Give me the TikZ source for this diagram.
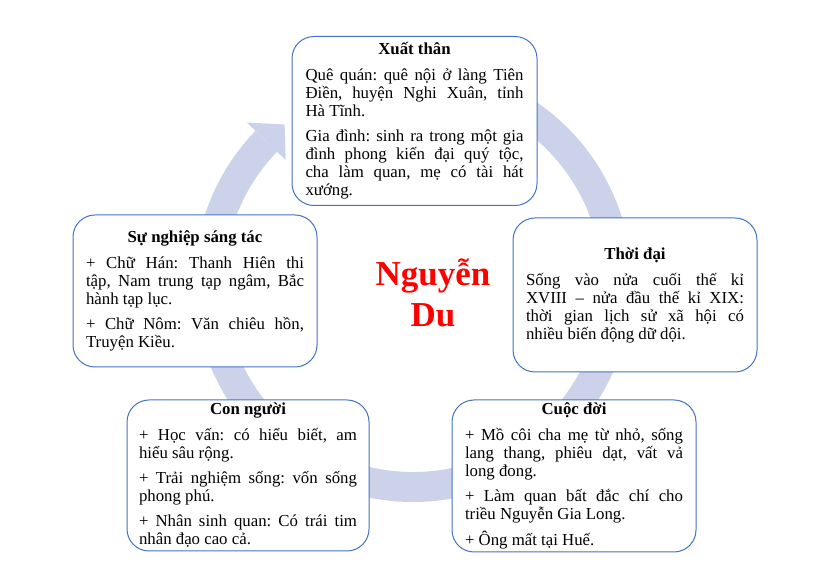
\documentclass[tikz,border=0pt]{standalone}
\usepackage{fontspec}
\setmainfont{Liberation Serif}
\usetikzlibrary{calc}
\definecolor{boxblue}{RGB}{68,114,196}
\definecolor{ringblue}{RGB}{204,210,233}
\definecolor{titlered}{RGB}{255,0,0}
\hyphenpenalty=10000 \exhyphenpenalty=10000 \tolerance=9999
\frenchspacing
\newcommand\boxtitle[1]{{\centering\bfseries #1\par}\vspace{8pt}}
\newcommand\pgap{\par\vspace{7pt}}
\newcommand\lb{\linebreak}
\begin{document}
\begin{tikzpicture}[x=1pt,y=1pt,
  infobox/.style={draw=boxblue, line width=1pt, fill=white, rounded corners=22pt,
    text width=218pt, align=justify, inner sep=1pt,
    font=\fontsize{16.8}{18}\selectfont\frenchspacing,
    execute at begin node={\setlength{\parindent}{0pt}}},
  bigtitle/.style={text=titlered, align=center, font=\fontsize{35}{41}\selectfont\bfseries}
]
\useasboundingbox (0,0) rectangle (816,588);
\coordinate (ringc) at (413,305);
% cycle ring with arrow head
\draw[ringblue, line width=30pt] ($(ringc)+(115:204pt)$) arc[start angle=115, end angle=-224, radius=204pt];
\fill[ringblue] ($(ringc)+(-224:177pt)$) -- ($(ringc)+(-231:204pt)$) -- ($(ringc)+(-224:231pt)$) -- cycle;

\node[infobox, minimum width=245pt, minimum height=169pt] (xuatthan) at (414.5,467)
 {\boxtitle{Xuất thân}Quê quán: quê nội ở làng Tiên\lb{} Điền, huyện Nghi Xuân, tỉnh\lb{} Hà Tĩnh.\pgap
  Gia đình: sinh ra trong một gia\lb{} đình phong kiến đại quý tộc,\lb{} cha làm quan, mẹ có tài hát\lb{} xướng.};

\node[infobox, minimum width=244pt, minimum height=154pt] (thoidai) at (635,293)
 {\boxtitle{Thời đại}Sống vào nửa cuối thế kỉ\lb{} XVIII – nửa đầu thế kỉ XIX:\lb{} thời gian lịch sử xã hội có\lb{} nhiều biến động dữ dội.};

\node[infobox, minimum width=244pt, minimum height=152pt] (cuocdoi) at (574,112)
 {\boxtitle{Cuộc đời}+ Mồ côi cha mẹ từ nhỏ, sống\lb{} lang thang, phiêu dạt, vất vả\lb{} long đong.\pgap
  + Làm quan bất đắc chí cho\lb{} triều Nguyễn Gia Long.\pgap
  + Ông mất tại Huế.};

\node[infobox, minimum width=242pt, minimum height=151pt] (connguoi) at (248,112.5)
 {\boxtitle{Con người}+ Học vấn: có hiểu biết, am\lb{} hiểu sâu rộng.\pgap
  + Trải nghiệm sống: vốn sống\lb{} phong phú.\pgap
  + Nhân sinh quan: Có trái tim\lb{} nhân đạo cao cả.};

\node[infobox, minimum width=244pt, minimum height=152pt] (sunghiep) at (195,297)
 {\boxtitle{Sự nghiệp sáng tác}+ Chữ Hán: Thanh Hiên thi\lb{} tập, Nam trung tạp ngâm, Bắc\lb{} hành tạp lục.\pgap
  + Chữ Nôm: Văn chiêu hồn,\lb{} Truyện Kiều.};

\node[bigtitle] (nguyendu) at (433,295.5) {Nguyễn\\Du};
\end{tikzpicture}
\end{document}
